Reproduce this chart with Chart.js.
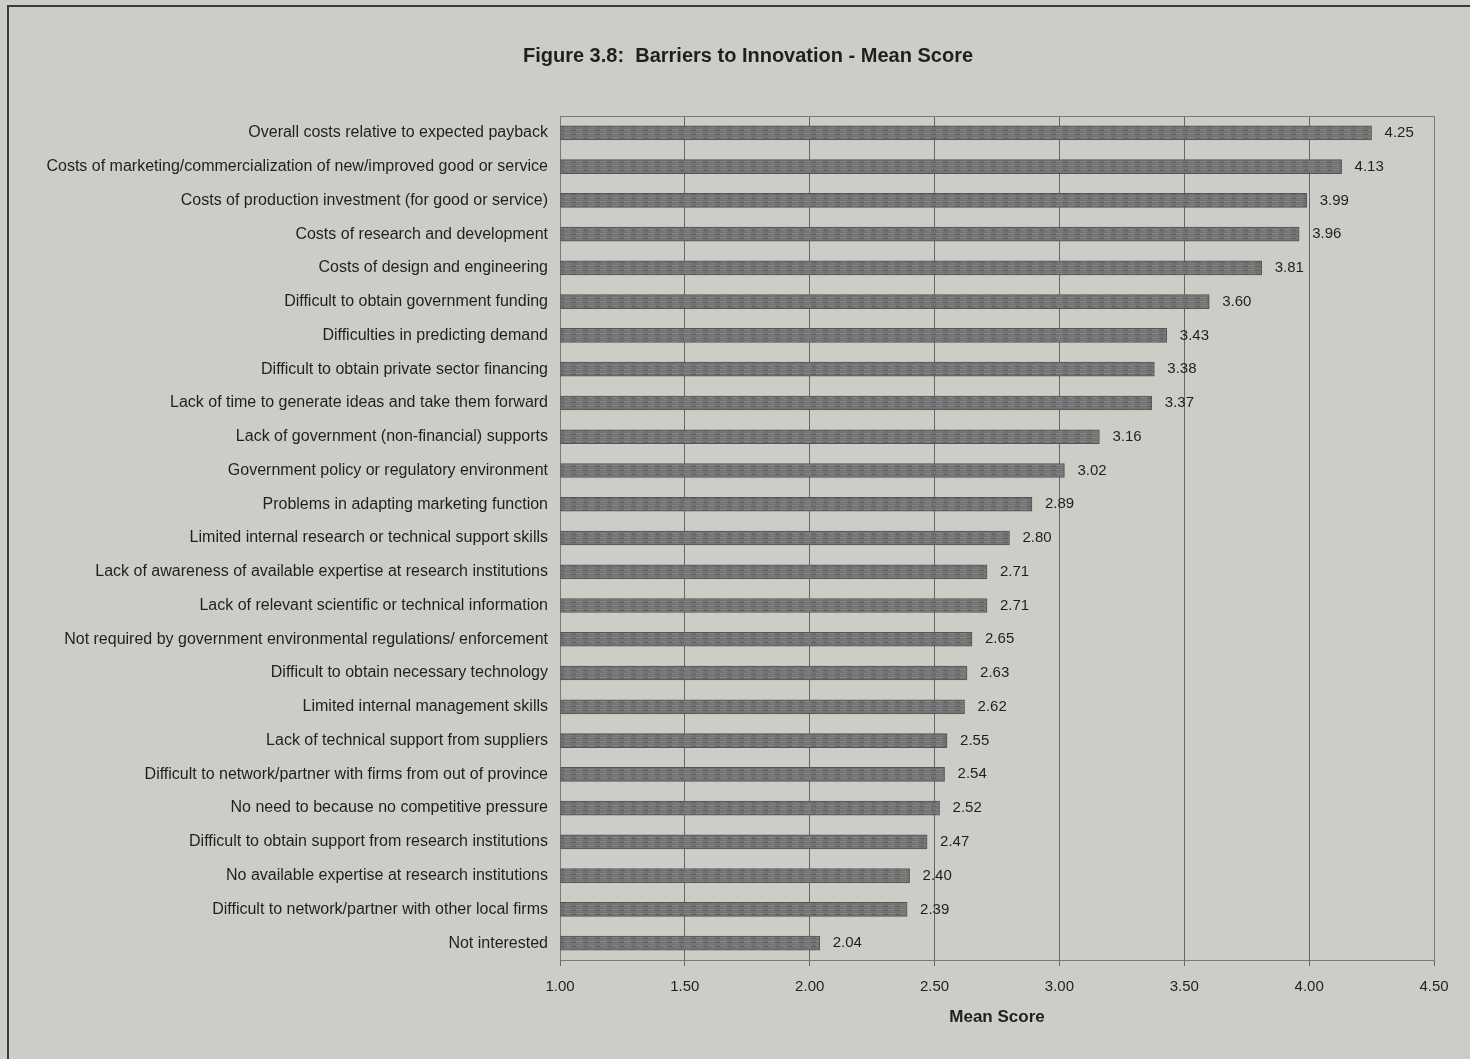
<!DOCTYPE html>
<html>
<head>
<meta charset="utf-8">
<title>Barriers to Innovation - Mean Score</title>
<script src="https://cdn.jsdelivr.net/npm/chart.js@4.4.1/dist/chart.umd.min.js"></script>
<style>
  html, body { margin: 0; padding: 0; background: #cdcdc8; }
  #wrap { position: relative; width: 1470px; height: 1059px; }
</style>
</head>
<body>
<div id="wrap"><canvas id="barriersChart" width="1470" height="1059"></canvas></div>
<script>
// Barreras, de mayor a menor puntuación
const categories = [
    'Overall costs relative to expected payback',
    'Costs of marketing/commercialization of new/improved good or service',
    'Costs of production investment (for good or service)',
    'Costs of research and development',
    'Costs of design and engineering',
    'Difficult to obtain government funding',
    'Difficulties in predicting demand',
    'Difficult to obtain private sector financing',
    'Lack of time to generate ideas and take them forward',
    'Lack of government (non-financial) supports',
    'Government policy or regulatory environment',
    'Problems in adapting marketing function',
    'Limited internal research or technical support skills',
    'Lack of awareness of available expertise at research institutions',
    'Lack of relevant scientific or technical information',
    'Not required by government environmental regulations/ enforcement',
    'Difficult to obtain necessary technology',
    'Limited internal management skills',
    'Lack of technical support from suppliers',
    'Difficult to network/partner with firms from out of province',
    'No need to because no competitive pressure',
    'Difficult to obtain support from research institutions',
    'No available expertise at research institutions',
    'Difficult to network/partner with other local firms',
    'Not interested'
];
const meanScores = [4.25, 4.13, 3.99, 3.96, 3.81, 3.60, 3.43, 3.38, 3.37, 3.16,
                    3.02, 2.89, 2.80, 2.71, 2.71, 2.65, 2.63, 2.62, 2.55, 2.54,
                    2.52, 2.47, 2.40, 2.39, 2.04];
const scoreTicks = [1.00, 1.50, 2.00, 2.50, 3.00, 3.50, 4.00, 4.50];
const chartTitle = 'Figure 3.8:  Barriers to Innovation - Mean Score';

const textColor = '#1f1f1f';
const fontFamily = '"Liberation Sans", Arial, sans-serif';

// Relleno rayado de las barras
function barPattern() {
    const c = document.createElement('canvas');
    c.width = 12;
    c.height = 4;
    const g = c.getContext('2d');
    g.fillStyle = '#727272';
    g.fillRect(0, 0, 12, 4);
    g.fillStyle = '#868686';
    g.fillRect(0, 1, 7, 1);
    g.fillStyle = '#636363';
    g.fillRect(7, 2, 5, 1);
    g.fillStyle = '#7c7c7c';
    g.fillRect(2, 3, 6, 1);
    return g.createPattern(c, 'repeat');
}

// Marco exterior, título y borde del área de trazado
const framePlugin = {
    id: 'frame',
    beforeDraw(chart) {
        const ctx = chart.ctx;
        ctx.save();
        ctx.strokeStyle = '#3c3c3c';
        ctx.lineWidth = 2;
        ctx.strokeRect(8, 6, chart.width + 20, chart.height + 20);
        // el título va algo a la derecha del centro del lienzo
        ctx.font = 'bold 20px ' + fontFamily;
        ctx.fillStyle = textColor;
        ctx.textAlign = 'center';
        ctx.textBaseline = 'middle';
        ctx.fillText(chartTitle, 748, 56);
        ctx.restore();
    },
    beforeDatasetsDraw(chart) {
        const a = chart.chartArea;
        const ctx = chart.ctx;
        ctx.save();
        ctx.strokeStyle = '#7a7a7a';
        ctx.lineWidth = 1;
        ctx.strokeRect(a.left + 0.5, a.top + 0.5, a.right - a.left, a.bottom - a.top);
        ctx.restore();
    }
};

// Etiquetas de valor a la derecha de cada barra
const valueLabels = {
    id: 'valueLabels',
    afterDatasetsDraw(chart) {
        const ctx = chart.ctx;
        const meta = chart.getDatasetMeta(0);
        ctx.save();
        ctx.font = '15px ' + fontFamily;
        ctx.fillStyle = textColor;
        ctx.textAlign = 'left';
        ctx.textBaseline = 'middle';
        meta.data.forEach((bar, i) => {
            ctx.fillText(meanScores[i].toFixed(2), bar.x + 13, bar.y);
        });
        ctx.restore();
    }
};

const ctx = document.getElementById('barriersChart').getContext('2d');
const barriersChart = new Chart(ctx, {
    type: 'bar',
    data: {
        labels: categories,
        datasets: [{
            label: 'Mean Score',
            data: meanScores,
            base: 1,
            backgroundColor: barPattern(),
            borderColor: '#555555',
            borderWidth: 1,
            borderSkipped: false,
            barThickness: 14
        }]
    },
    options: {
        indexAxis: 'y',
        responsive: false,
        animation: false,
        layout: { padding: { left: 20, right: 36, top: 116, bottom: 0 } },
        plugins: {
            legend: { display: false },
            tooltip: { enabled: false },
            title: { display: false }
        },
        scales: {
            x: {
                type: 'linear',
                min: 1,
                max: 4.5,
                afterBuildTicks(scale) {
                    scale.ticks = scoreTicks.map(v => ({ value: v }));
                },
                afterFit(scale) {
                    scale.height = 99;
                },
                grid: {
                    color: '#666666',
                    lineWidth: 1,
                    drawTicks: true,
                    tickLength: 6
                },
                border: { color: '#555555', width: 1 },
                ticks: {
                    color: textColor,
                    padding: 12,
                    font: { family: fontFamily, size: 15 },
                    callback: v => Number(v).toFixed(2)
                },
                title: {
                    display: true,
                    text: 'Mean Score',
                    color: textColor,
                    font: { family: fontFamily, size: 17, weight: 'bold' },
                    padding: { top: 0, bottom: 31 }
                }
            },
            y: {
                afterFit(scale) {
                    scale.width = 540;
                },
                grid: { display: false, drawTicks: false },
                border: { color: '#555555', width: 1 },
                ticks: {
                    color: textColor,
                    padding: 12,
                    autoSkip: false,
                    font: { family: fontFamily, size: 16 }
                }
            }
        }
    },
    plugins: [framePlugin, valueLabels]
});
</script>
</body>
</html>
